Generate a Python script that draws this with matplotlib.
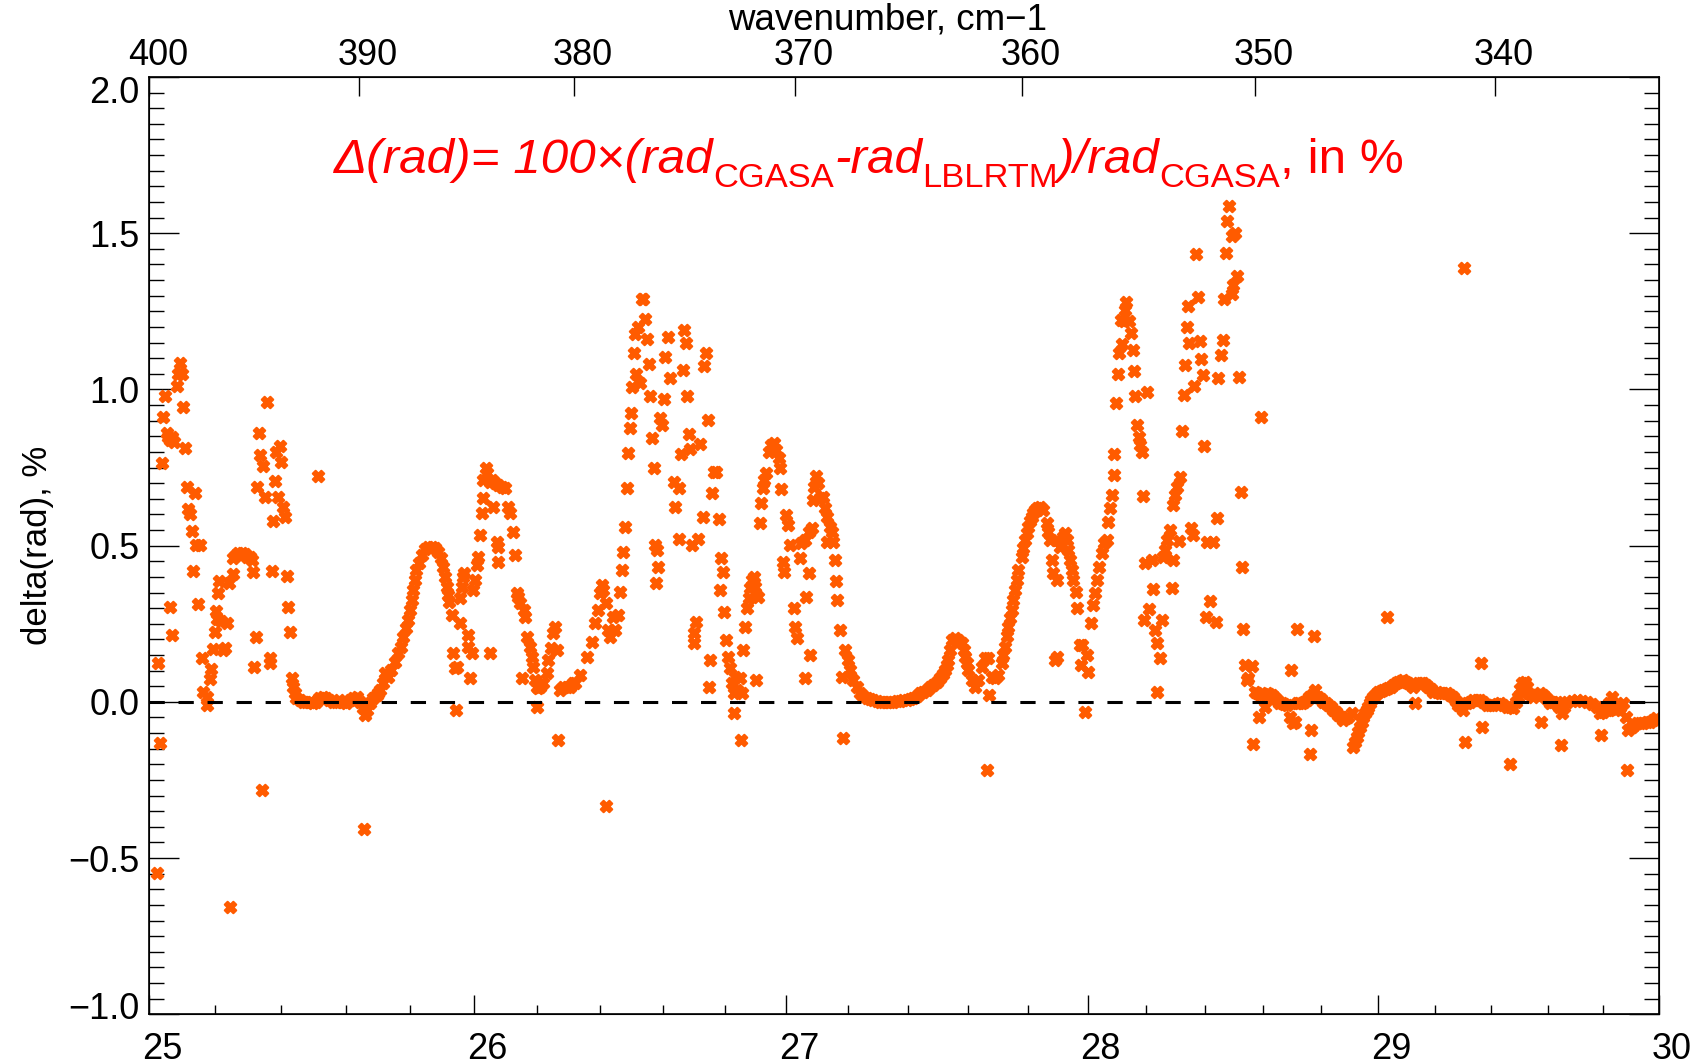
import numpy as np
import matplotlib
matplotlib.use('Agg')
import matplotlib.pyplot as plt
import matplotlib.transforms as mtransforms
from matplotlib.ticker import FixedLocator, FixedFormatter, NullFormatter, NullLocator, FuncFormatter

plt.rcParams['font.family'] = ['Liberation Sans', 'DejaVu Sans']

# (wavelength in micron, delta(rad) in %), grouped by region
pts_250 = [(25.022, -0.548), (25.027, 0.124), (25.032, -0.132), (25.038, 0.763), (25.042, 0.911),
           (25.048, 0.979), (25.053, 0.862), (25.058, 0.849), (25.063, 0.838), (25.068, 0.847),
           (25.075, 0.833), (25.063, 0.303), (25.068, 0.214), (25.083, 1.011), (25.088, 1.049),
           (25.093, 1.086), (25.100, 1.049), (25.103, 0.945), (25.108, 0.811), (25.113, 0.689),
           (25.118, 0.616), (25.123, 0.601), (25.128, 0.548), (25.133, 0.420), (25.138, 0.667),
           (25.140, 0.502), (25.148, 0.313), (25.154, 0.502), (25.159, 0.140), (25.164, 0.030),
           (25.174, 0.017), (25.174, -0.010), (25.184, 0.073), (25.187, 0.105), (25.194, 0.168),
           (25.199, 0.225), (25.202, 0.292), (25.206, 0.264), (25.209, 0.350), (25.212, 0.388),
           (25.216, 0.260), (25.224, 0.166), (25.229, 0.172), (25.235, 0.252), (25.243, 0.382),
           (25.246, -0.655), (25.253, 0.409), (25.255, 0.460), (25.263, 0.470), (25.270, 0.476),
           (25.281, 0.478), (25.291, 0.474), (25.298, 0.465), (25.306, 0.463), (25.311, 0.454),
           (25.314, 0.417), (25.318, 0.113), (25.323, 0.209), (25.327, 0.689), (25.332, 0.859),
           (25.337, 0.790), (25.344, -0.282), (25.347, 0.755), (25.352, 0.657), (25.357, 0.959),
           (25.367, 0.140), (25.367, 0.125), (25.372, 0.420), (25.377, 0.580), (25.384, 0.708),
           (25.387, 0.801), (25.392, 0.657), (25.397, 0.819), (25.402, 0.767), (25.407, 0.623),
           (25.413, 0.593), (25.418, 0.403), (25.423, 0.305), (25.428, 0.223), (25.435, 0.076),
           (25.438, 0.049), (25.443, 0.028), (25.448, 0.012)]

pts_255 = [(25.458, 0.006), (25.468, 0.001), (25.478, -0.002), (25.489, 0.001), (25.499, -0.004),
           (25.509, 0.001), (25.516, 0.723), (25.519, 0.012), (25.530, 0.017), (25.540, 0.012),
           (25.550, 0.006), (25.560, 0.001), (25.571, 0.001), (25.581, 0.006), (25.591, 0.001),
           (25.601, -0.004), (25.612, 0.006), (25.624, 0.012), (25.634, 0.017), (25.645, 0.001),
           (25.655, -0.020), (25.657, -0.407), (25.660, -0.042), (25.665, -0.026), (25.676, -0.004),
           (25.686, 0.012), (25.696, 0.022)]

pts_258 = [(25.701, 0.028), (25.706, 0.038), (25.716, 0.060), (25.722, 0.092), (25.732, 0.081),
           (25.742, 0.102), (25.753, 0.129), (25.763, 0.156), (25.773, 0.177), (25.779, 0.209),
           (25.787, 0.236), (25.794, 0.262), (25.799, 0.294), (25.805, 0.326), (25.810, 0.358),
           (25.815, 0.390), (25.820, 0.422), (25.829, 0.444), (25.836, 0.470), (25.846, 0.488),
           (25.857, 0.497), (25.867, 0.497), (25.878, 0.492), (25.888, 0.481), (25.898, 0.460),
           (25.904, 0.433), (25.909, 0.401), (25.914, 0.369), (25.919, 0.342), (25.923, 0.321)]

pts_260 = [(25.930, 0.278), (25.933, 0.156), (25.940, 0.108), (25.946, 0.113), (25.944, -0.026),
           (25.957, 0.332), (25.957, 0.252), (25.962, 0.369), (25.967, 0.401), (25.970, 0.412),
           (25.982, 0.214), (25.982, 0.177), (25.993, 0.156), (25.987, 0.076), (25.998, 0.358),
           (26.003, 0.390), (26.009, 0.438), (26.012, 0.465), (26.019, 0.534), (26.024, 0.604),
           (26.029, 0.652), (26.029, 0.710), (26.038, 0.748), (26.042, 0.732), (26.050, 0.705),
           (26.056, 0.710), (26.066, 0.700), (26.077, 0.694), (26.087, 0.689), (26.097, 0.684),
           (26.061, 0.625), (26.050, 0.156), (26.071, 0.513), (26.077, 0.497), (26.077, 0.449),
           (26.108, 0.625), (26.114, 0.604), (26.122, 0.545), (26.129, 0.470), (26.135, 0.348),
           (26.140, 0.337), (26.145, 0.316), (26.156, 0.294), (26.161, 0.273), (26.166, 0.209),
           (26.177, 0.177), (26.182, 0.145), (26.187, 0.113), (26.192, 0.070), (26.198, 0.049),
           (26.203, 0.044), (26.208, 0.049), (26.150, 0.076), (26.198, -0.015), (26.219, 0.060),
           (26.230, 0.092), (26.235, 0.134), (26.242, 0.172), (26.250, 0.220), (26.256, 0.241),
           (26.261, 0.166), (26.266, -0.122), (26.272, 0.038), (26.282, 0.049), (26.293, 0.049),
           (26.303, 0.049), (26.314, 0.060), (26.319, 0.060)]

pts_265 = [(26.335, 0.086), (26.356, 0.145), (26.372, 0.193), (26.383, 0.252), (26.393, 0.294),
           (26.398, 0.348), (26.404, 0.374), (26.409, 0.358), (26.419, 0.316), (26.419, -0.332),
           (26.425, 0.230), (26.430, 0.209), (26.441, 0.273), (26.446, 0.230), (26.457, 0.278),
           (26.462, 0.353), (26.468, 0.422), (26.473, 0.481), (26.479, 0.561), (26.484, 0.684),
           (26.487, 0.795), (26.493, 0.875), (26.497, 0.923), (26.500, 1.009), (26.508, 1.118),
           (26.511, 1.179), (26.519, 1.201), (26.532, 1.288), (26.536, 1.288), (26.543, 1.227),
           (26.549, 1.160), (26.554, 1.083), (26.559, 0.979), (26.565, 0.843), (26.570, 0.748),
           (26.576, 0.502), (26.581, 0.486), (26.583, 0.433), (26.579, 0.380), (26.514, 1.051),
           (26.527, 1.019), (26.592, 0.907), (26.597, 0.886), (26.605, 0.968), (26.608, 1.103),
           (26.616, 1.167), (26.624, 1.036), (26.635, 0.705), (26.640, 0.623), (26.651, 0.684),
           (26.651, 0.520), (26.659, 0.793), (26.665, 1.062), (26.669, 1.190), (26.676, 1.150),
           (26.678, 0.979), (26.683, 0.856), (26.688, 0.808), (26.694, 0.502), (26.699, 0.220),
           (26.701, 0.188), (26.708, 0.257), (26.713, 0.520), (26.721, 0.824), (26.729, 0.593),
           (26.733, 1.075), (26.739, 1.118), (26.744, 0.902), (26.753, 0.134), (26.749, 0.049),
           (26.758, 0.670), (26.764, 0.737), (26.772, 0.737), (26.780, 0.584), (26.788, 0.460),
           (26.794, 0.417), (26.785, 0.358), (26.798, 0.289), (26.804, 0.198), (26.810, 0.145),
           (26.818, 0.108), (26.823, 0.060), (26.829, 0.028), (26.834, 0.081), (26.839, 0.038),
           (26.850, 0.076), (26.856, 0.028), (26.829, -0.036), (26.852, -0.122), (26.859, 0.166),
           (26.866, 0.241), (26.872, 0.300), (26.877, 0.332), (26.883, 0.364), (26.888, 0.390),
           (26.893, 0.401), (26.899, 0.369), (26.907, 0.337), (26.902, 0.070), (26.913, 0.572),
           (26.918, 0.636), (26.924, 0.684), (26.928, 0.710), (26.935, 0.732), (26.942, 0.801),
           (26.950, 0.822), (26.958, 0.827), (26.967, 0.806), (26.975, 0.780), (26.978, 0.748),
           (26.982, 0.680), (26.989, 0.449), (26.993, 0.417), (27.000, 0.598), (27.005, 0.566),
           (27.013, 0.502), (27.024, 0.300), (27.029, 0.241), (27.035, 0.204), (27.044, 0.460),
           (27.046, 0.508), (27.062, 0.518), (27.073, 0.545), (27.083, 0.556), (27.073, 0.412),
           (27.065, 0.337), (27.059, 0.076), (27.078, 0.150), (27.087, 0.646), (27.091, 0.689),
           (27.098, 0.723), (27.102, 0.700), (27.111, 0.652), (27.121, 0.657), (27.127, 0.620),
           (27.132, 0.593), (27.141, 0.561), (27.148, 0.545), (27.132, 0.513), (27.152, 0.513),
           (27.159, 0.454), (27.163, 0.388), (27.167, 0.326), (27.174, 0.230), (27.181, 0.081),
           (27.184, -0.116)]

pts_273 = [(27.192, 0.166), (27.200, 0.134), (27.208, 0.102), (27.219, 0.070), (27.230, 0.049),
           (27.241, 0.028), (27.252, 0.018), (27.263, 0.012), (27.274, 0.008), (27.285, 0.006),
           (27.296, 0.003), (27.307, 0.001), (27.318, 0.000), (27.329, 0.000), (27.340, 0.000),
           (27.351, 0.000), (27.362, 0.002), (27.373, 0.004), (27.384, 0.005), (27.395, 0.006),
           (27.406, 0.009), (27.417, 0.012), (27.428, 0.020), (27.439, 0.028), (27.450, 0.033),
           (27.461, 0.038), (27.472, 0.046), (27.483, 0.054), (27.494, 0.065), (27.505, 0.076),
           (27.514, 0.090), (27.522, 0.102), (27.528, 0.118), (27.533, 0.134), (27.539, 0.166),
           (27.544, 0.198), (27.555, 0.204), (27.566, 0.198), (27.578, 0.188), (27.584, 0.166),
           (27.589, 0.145), (27.595, 0.124), (27.600, 0.102), (27.611, 0.070), (27.622, 0.049),
           (27.633, 0.070), (27.644, 0.113), (27.655, 0.140), (27.663, -0.218), (27.667, 0.140),
           (27.670, 0.022), (27.678, 0.081), (27.689, 0.076), (27.700, 0.086), (27.711, 0.124),
           (27.716, 0.150), (27.722, 0.177), (27.728, 0.210), (27.733, 0.241), (27.739, 0.268),
           (27.745, 0.294), (27.750, 0.326), (27.756, 0.358), (27.761, 0.390), (27.767, 0.422),
           (27.778, 0.465), (27.784, 0.492), (27.789, 0.518), (27.795, 0.540), (27.801, 0.561),
           (27.806, 0.578), (27.812, 0.593), (27.817, 0.604), (27.823, 0.614), (27.829, 0.620),
           (27.840, 0.625), (27.851, 0.614), (27.862, 0.572), (27.868, 0.545), (27.874, 0.518),
           (27.879, 0.454), (27.885, 0.412), (27.896, 0.390), (27.890, 0.134), (27.896, 0.145),
           (27.896, 0.518)]

pts_280 = [(27.907, 0.497), (27.918, 0.529), (27.924, 0.540), (27.929, 0.518), (27.935, 0.486),
           (27.941, 0.454), (27.947, 0.422), (27.952, 0.390), (27.961, 0.353), (27.966, 0.300),
           (27.975, 0.182), (27.977, 0.118), (27.980, 0.182), (27.999, 0.150), (28.003, 0.097),
           (27.992, -0.031), (28.011, 0.252), (28.018, 0.310), (28.025, 0.348), (28.031, 0.390),
           (28.039, 0.433), (28.048, 0.476), (28.056, 0.508), (28.065, 0.518), (28.071, 0.577),
           (28.076, 0.620), (28.082, 0.662), (28.088, 0.726), (28.091, 0.793), (28.097, 0.955),
           (28.103, 1.049), (28.107, 1.118), (28.112, 1.222), (28.116, 1.147), (28.122, 1.220),
           (28.128, 1.254), (28.131, 1.281), (28.139, 1.220), (28.147, 1.181), (28.154, 1.126),
           (28.158, 1.060), (28.161, 0.979), (28.167, 0.886), (28.173, 0.849), (28.178, 0.822),
           (28.184, 0.801), (28.201, 0.993), (28.187, 0.659), (28.195, 0.444), (28.218, 0.454),
           (28.222, 0.360), (28.210, 0.296), (28.192, 0.262), (28.229, 0.230), (28.235, 0.188),
           (28.246, 0.140), (28.237, 0.030), (28.252, 0.262), (28.258, 0.465), (28.263, 0.486),
           (28.269, 0.518), (28.281, 0.550), (28.292, 0.630), (28.298, 0.662), (28.303, 0.689),
           (28.315, 0.719), (28.292, 0.454), (28.286, 0.364), (28.311, 0.516), (28.351, 0.556),
           (28.358, 0.534), (28.406, 0.513), (28.429, 0.513), (28.443, 0.588), (28.417, 0.324),
           (28.403, 0.273), (28.438, 0.257), (28.523, 0.673), (28.526, 0.431), (28.532, 0.232),
           (28.538, 0.118), (28.561, 0.115), (28.544, 0.070), (28.549, 0.076), (28.323, 0.868),
           (28.328, 0.982), (28.332, 1.078), (28.337, 1.199), (28.343, 1.268), (28.347, 1.150),
           (28.369, 1.432), (28.377, 1.297), (28.383, 1.156), (28.386, 1.099), (28.392, 1.046),
           (28.397, 0.819), (28.363, 1.011), (28.446, 1.035), (28.454, 1.110), (28.463, 1.158),
           (28.467, 1.291), (28.473, 1.437), (28.477, 1.540), (28.483, 1.587), (28.492, 1.491),
           (28.503, 1.500), (28.496, 1.334), (28.511, 1.363), (28.492, 1.307), (28.517, 1.041),
           (28.593, 0.913)]

pts_290 = [(28.572, 0.033), (28.580, 0.028), (28.589, 0.022), (28.600, 0.025), (28.612, 0.028),
           (28.621, 0.025), (28.630, 0.022), (28.639, 0.014), (28.647, 0.006), (28.655, -0.004),
           (28.664, -0.004), (28.673, -0.008), (28.682, -0.010), (28.693, -0.047), (28.705, -0.068),
           (28.711, -0.063), (28.717, -0.004), (28.725, -0.004), (28.734, -0.004), (28.742, 0.001),
           (28.751, 0.006), (28.760, 0.014), (28.768, 0.022), (28.780, 0.038), (28.791, 0.017),
           (28.800, 0.008), (28.809, 0.001), (28.818, -0.004), (28.826, -0.010), (28.835, -0.018),
           (28.844, -0.026), (28.852, -0.034), (28.861, -0.042), (28.870, -0.050), (28.879, -0.058),
           (28.889, -0.052), (28.896, -0.047), (28.908, -0.036), (28.587, -0.047), (28.607, -0.017),
           (28.566, -0.134), (28.696, 0.102), (28.717, 0.234), (28.776, 0.211), (28.763, -0.166),
           (28.765, -0.090), (29.030, 0.271), (28.914, -0.143), (28.920, -0.127), (28.925, -0.111),
           (28.931, -0.095), (28.937, -0.079), (28.943, -0.063), (28.948, -0.047), (28.954, -0.036),
           (28.960, -0.026), (28.966, -0.015), (28.972, -0.004), (28.977, 0.006), (28.983, 0.017),
           (28.992, 0.025), (29.001, 0.033), (29.010, 0.036), (29.018, 0.038), (29.027, 0.041),
           (29.036, 0.044), (29.045, 0.049), (29.053, 0.054), (29.062, 0.060), (29.071, 0.065),
           (29.080, 0.068), (29.089, 0.070), (29.097, 0.065), (29.106, 0.060), (29.115, 0.054),
           (29.124, 0.049), (29.130, -0.004), (29.142, 0.060), (29.150, 0.060), (29.159, 0.060),
           (29.168, 0.054), (29.177, 0.049), (29.185, 0.041), (29.194, 0.033), (29.206, 0.030),
           (29.218, 0.028), (29.230, 0.028), (29.241, 0.028), (29.253, 0.022), (29.265, 0.017),
           (29.274, 0.004), (29.282, -0.010), (29.291, -0.018), (29.300, -0.026), (29.303, 1.389),
           (29.312, -0.004), (29.324, 0.001), (29.336, 0.006), (29.347, 0.006), (29.359, 0.006),
           (29.371, -0.002), (29.383, -0.010), (29.395, -0.010), (29.406, -0.010), (29.418, -0.007),
           (29.306, -0.127), (29.362, 0.124), (29.365, -0.082)]

pts_295 = [(29.430, -0.004), (29.442, -0.010), (29.454, -0.015), (29.466, -0.018), (29.478, -0.020),
           (29.487, 0.000), (29.496, 0.017), (29.502, 0.040), (29.508, 0.060), (29.519, 0.065),
           (29.525, 0.048), (29.531, 0.028), (29.540, 0.022), (29.549, 0.017), (29.561, 0.022),
           (29.573, 0.028), (29.582, 0.022), (29.591, 0.017), (29.600, 0.006), (29.609, -0.004),
           (29.621, -0.001), (29.633, 0.001), (29.642, -0.018), (29.651, -0.036), (29.660, -0.015),
           (29.668, 0.001), (29.686, 0.004), (29.704, 0.006), (29.722, 0.004), (29.740, 0.001),
           (29.758, -0.006), (29.776, -0.015), (29.788, -0.036), (29.800, -0.031), (29.812, -0.026),
           (29.821, -0.005), (29.830, 0.017), (29.836, -0.005), (29.842, -0.026), (29.848, -0.022),
           (29.860, -0.015), (29.872, -0.004), (29.881, -0.050), (29.890, -0.090), (29.902, -0.079),
           (29.911, -0.073), (29.920, -0.068), (29.932, -0.068), (29.944, -0.068), (29.956, -0.066),
           (29.968, -0.063), (29.980, -0.058), (29.992, -0.052), (29.466, -0.199), (29.575, -0.063),
           (29.649, -0.138), (29.791, -0.106), (29.886, -0.218)]

segments = [pts_250, pts_255, pts_258, pts_260, pts_265, pts_273, pts_280, pts_290, pts_295]
wl = np.concatenate([np.array(s)[:, 0] for s in segments])
drad = np.concatenate([np.array(s)[:, 1] for s in segments])

wl_major = [25, 26, 27, 28, 29, 30]
wl_minor = [25.2, 25.4, 25.6, 25.8, 26.2, 26.4, 26.6, 26.8, 27.2, 27.4, 27.6, 27.8,
            28.2, 28.4, 28.6, 28.8, 29.2, 29.4, 29.6, 29.8]
wn_major = [400, 390, 380, 370, 360, 350, 340]
y_major = [-1.0, -0.5, 0.0, 0.5, 1.0, 1.5, 2.0]

orange = '#ff5b00'

fig = plt.figure(figsize=(17.02, 10.64), dpi=100)
ax = fig.add_axes([0.08772, 0.04671, 0.88684, 0.88092])
ax.set_xscale('log')
ax.set_xlim(25, 30)
ax.set_ylim(-1, 2)

ax.scatter(wl, drad, marker='X', s=68, color=orange, edgecolors=orange, linewidths=1.5, zorder=2)
ax.axhline(0, color='black', lw=2.2, dashes=(5, 4.5), zorder=3)

ax.xaxis.set_major_locator(FixedLocator(wl_major))
ax.xaxis.set_major_formatter(FixedFormatter([str(v) for v in wl_major]))
ax.xaxis.set_minor_locator(FixedLocator(wl_minor))
ax.xaxis.set_minor_formatter(NullFormatter())
ax.yaxis.set_major_locator(FixedLocator(y_major))
ax.yaxis.set_minor_locator(FixedLocator(np.arange(-1.0, 2.001, 0.05)))
ax.yaxis.set_major_formatter(FuncFormatter(lambda v, p: f'{v:.1f}'.replace('-', '\u2212')))

ax.tick_params(axis='y', which='major', direction='in', length=21.6, width=1,
               left=True, right=True, labelsize=26, pad=7)
ax.tick_params(axis='y', which='minor', direction='in', length=10.8, width=1, left=True, right=True)
ax.tick_params(axis='x', which='major', direction='in', length=13.7, width=1,
               bottom=True, top=False, labelsize=26, pad=13)
ax.tick_params(axis='x', which='minor', direction='in', length=6.8, width=1, bottom=True, top=False)
for sp in ax.spines.values():
    sp.set_linewidth(1.2)

ax.set_ylabel('delta(rad), %', fontsize=25, labelpad=10)

# top axis: wavenumber
ax2 = ax.twiny()
ax2.set_xscale('log')
ax2.set_xlim(25, 30)
ax2.xaxis.set_major_locator(FixedLocator([1e4 / v for v in wn_major]))
ax2.xaxis.set_major_formatter(FixedFormatter([str(v) for v in wn_major]))
ax2.xaxis.set_minor_locator(NullLocator())
ax2.tick_params(axis='x', which='major', direction='in', length=13.7, width=1, labelsize=26, pad=3.0)
fig.text(0.5217, 1 - 30 / 1064, 'wavenumber, cm\u22121', fontsize=26.5, ha='center', va='baseline')

# label nudges like the original
off_b = mtransforms.ScaledTranslation(0.13, 0, fig.dpi_scale_trans)
for lab in ax.get_xticklabels():
    lab.set_transform(lab.get_transform() + off_b)
off_t = mtransforms.ScaledTranslation(0.09, 0, fig.dpi_scale_trans)
for lab in ax2.get_xticklabels():
    lab.set_transform(lab.get_transform() + off_t)
ylabs = ax.get_yticklabels()
ylabs[0].set_transform(ylabs[0].get_transform() + mtransforms.ScaledTranslation(0, 0.09, fig.dpi_scale_trans))
ylabs[-1].set_transform(ylabs[-1].get_transform() + mtransforms.ScaledTranslation(0, -0.12, fig.dpi_scale_trans))

# formula in red, built piece by piece
big, small, drop = 35.6, 24.8, -8.1
pieces = [('-rad', False), ('LBLRTM', True), (')/rad', False), ('CGASA', True), (', in %', False)]
t0 = fig.text(0.1962, 0.8374, '\u0394(rad)= 100\u00d7(rad', fontsize=big, style='italic',
              color='red', va='baseline')
t1 = ax.annotate('CGASA', xy=(1, 0), xycoords=(t0, t0), xytext=(0, drop),
                 textcoords='offset points', va='bottom', fontsize=small, color='red')
prev = t1
for txt, sub in pieces:
    if sub:
        t = ax.annotate(txt, xy=(1, 0), xycoords=(prev, t0), xytext=(0, drop),
                        textcoords='offset points', va='bottom', fontsize=small, color='red')
    else:
        t = ax.annotate(txt, xy=(1, 0), xycoords=(prev, t0), va='bottom', fontsize=big,
                        color='red', style='normal' if 'in' in txt else 'italic')
    prev = t

fig.savefig('out.png', dpi=100)
